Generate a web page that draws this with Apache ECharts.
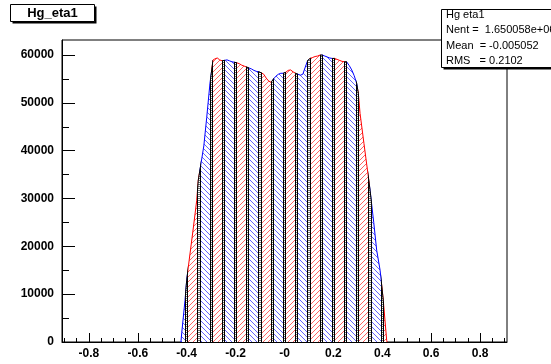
<!DOCTYPE html>
<html><head><meta charset="utf-8">
<script src="https://cdn.jsdelivr.net/npm/echarts@6/dist/echarts.min.js"></script>
<style>html,body{margin:0;padding:0;background:#fff}#c{width:551px;height:364px}</style>
</head><body><div id="c"></div>
<script>
// ---- histogram outline (x, entries) ----
const envX = [-0.4235,-0.420,-0.407,-0.400,-0.390,-0.375,-0.359,-0.3526,-0.330,-0.318,-0.3047,-0.2924,
 -0.285,-0.275,-0.265,-0.255,-0.245,-0.235,-0.225,-0.215,-0.205,-0.195,-0.185,-0.175,-0.165,-0.155,-0.145,-0.135,-0.125,-0.115,-0.105,-0.095,
 -0.085,-0.075,-0.065,-0.055,-0.045,-0.035,-0.025,-0.015,-0.005,0.005,0.015,0.025,0.035,0.045,0.055,0.065,0.075,0.085,0.095,0.105,
 0.115,0.125,0.135,0.145,0.155,0.165,0.175,0.185,0.195,0.205,0.215,0.225,0.235,0.245,
 0.254,0.265,0.275,0.285,0.295,0.302,0.309,0.325,0.343,0.350,0.365,0.377,0.391,0.404,0.418,0.4195];
const envV = [0,2050,8700,12900,17070,23000,29640,33830,41000,47000,54150,58960,
 59200,59400,59000,58800,58900,59000,58800,58600,58500,58400,58200,57900,57700,57500,57300,57100,56800,56600,56500,56300,
 56000,55200,54600,54300,55000,55600,56000,56200,56200,56400,56800,56900,56500,56200,56000,55800,56000,57500,58900,59300,
 59500,59700,59800,60000,60000,59800,59600,59400,59300,59300,59100,58900,58700,58600,
 58600,57800,56900,55700,54100,52000,47800,41500,34500,31700,25000,19200,15000,8700,300,0];
const crackCenters = [-0.40,-0.35,-0.30,-0.25,-0.20,-0.15,-0.10,-0.05,0.00,0.05,0.10,0.15,0.20,0.25,0.30,0.35,0.40];
const crackWidth = 0.013;
const xTickValues = [-0.8,-0.6,-0.4,-0.2,0,0.2,0.4,0.6,0.8];
const xTickLabels = ['-0.8','-0.6','-0.4','-0.2','-0','0.2','0.4','0.6','0.8'];
const xMinorTicks = [-0.9,-0.85,-0.75,-0.7,-0.65,-0.55,-0.5,-0.45,-0.35,-0.3,-0.25,-0.15,-0.1,-0.05,0.05,0.1,0.15,0.25,0.3,0.35,0.45,0.5,0.55,0.65,0.7,0.75,0.85,0.9];
const yTickValues = [0,10000,20000,30000,40000,50000,60000];
const yMinorTicks = [5000,15000,25000,35000,45000,55000];
const histTitle = 'Hg_eta1';
const statsTitle = 'Hg eta1';
const statsRows = ['Nent =  1.650058e+06', 'Mean  = -0.005052', 'RMS   = 0.2102'];

// ---- hatch patterns ----
function hatch(kind) {
  const c = document.createElement('canvas');
  const ctx = c.getContext('2d');
  if (kind === 'crack') {
    c.width = 1; c.height = 2;
    ctx.fillStyle = '#ffffff'; ctx.fillRect(0,0,1,2);
    ctx.fillStyle = '#707070'; ctx.fillRect(0,0,1,1);
    return c;
  }
  const n = 5;
  c.width = n; c.height = n;
  ctx.fillStyle = '#ffffff'; ctx.fillRect(0,0,n,n);
  ctx.fillStyle = kind === 'red' ? '#ff6464' : '#6464ff';
  for (let i = 0; i < n; i++) {
    if (kind === 'red') ctx.fillRect(i, n - 1 - i, 1, 1); else ctx.fillRect(i, i, 1, 1);
  }
  return c;
}
const kinds = ['red', 'blue', 'crack'];
const pats = { red: hatch('red'), blue: hatch('blue'), crack: hatch('crack') };
const lineCol = { red: '#ff0000', blue: '#0000ff', crack: '#000000' };

// strips: blue outside left, alternating red/blue between cracks, red outside right
const hw = crackWidth / 2;
const stripRows = [];
stripRows.push([envX[0] - 0.01, crackCenters[0], 1]);
for (let k = 0; k < crackCenters.length - 1; k++) stripRows.push([crackCenters[k], crackCenters[k + 1], k % 2 === 0 ? 0 : 1]);
stripRows.push([crackCenters[crackCenters.length - 1], envX[envX.length - 1] + 0.01, 0]);
crackCenters.forEach(c => stripRows.push([c - hw, c + hw, 2]));

function renderStrip(params, api) {
  const a = api.value(0), b = api.value(1), kind = kinds[api.value(2)];
  const cs = params.coordSys;
  const top = cs.y, y0 = cs.y + cs.height;
  const pts = envX.map((x, i) => api.coord([x, envV[i]]));
  const poly = [api.coord([envX[0], 0])].concat(pts, [api.coord([envX[envX.length - 1], 0])]);
  const xa = Math.round(api.coord([a, 0])[0]);
  const xb = Math.round(api.coord([b, 0])[0]);
  const clip = () => ({ type: 'rect', shape: { x: xa, y: top - 5, width: Math.max(1, xb - xa), height: cs.height + 10 } });
  const children = [
    { type: 'polygon', shape: { points: poly }, style: { fill: { image: pats[kind], repeat: 'repeat' }, stroke: null }, clipPath: clip() },
    { type: 'polyline', shape: { points: pts }, style: { stroke: lineCol[kind], lineWidth: 1, fill: null }, clipPath: clip() }
  ];
  if (kind === 'crack') {
    [xa + 0.5, xb - 0.5].forEach(xx => children.push({
      type: 'line', shape: { x1: xx, y1: y0, x2: xx, y2: top }, style: { stroke: '#000', lineWidth: 1 },
      clipPath: { type: 'polygon', shape: { points: poly } }
    }));
  }
  return { type: 'group', children };
}

const font = { fontFamily: 'Liberation Sans', fontWeight: 'bold', fontSize: 12, color: '#000' };
const chart = echarts.init(document.getElementById('c'), null, { renderer: 'canvas' });
const rowY = [30, 46, 61];
const statsText = statsRows.map((r, i) => ({ type: 'text', x: 446, y: rowY[i], z: 102,
  style: { text: r, font: '11px "Liberation Sans"', fill: '#000', textVerticalAlign: 'middle' } }));
chart.setOption({
  animation: false,
  backgroundColor: '#fff',
  grid: { left: 62, right: 44, top: 40, bottom: 22, show: true, borderColor: '#000', borderWidth: 1, backgroundColor: 'transparent' },
  xAxis: [{
    type: 'value', min: -0.91, max: 0.91, position: 'bottom',
    axisLine: { show: true, onZero: false, lineStyle: { color: '#000', width: 1 } },
    axisTick: { show: true, inside: true, length: 9, customValues: xTickValues, lineStyle: { color: '#000' } },
    axisLabel: { show: true, customValues: xTickValues, margin: 6, ...font,
      formatter: v => { const i = xTickValues.findIndex(t => Math.abs(t - v) < 1e-9); return i >= 0 ? xTickLabels[i] : ''; } },
    splitLine: { show: false }
  }, {
    type: 'value', min: -0.91, max: 0.91, position: 'bottom',
    axisLine: { show: false, onZero: false },
    axisTick: { show: true, inside: true, length: 4, customValues: xMinorTicks, lineStyle: { color: '#000' } },
    axisLabel: { show: false }, splitLine: { show: false }
  }],
  yAxis: [{
    type: 'value', min: 0, max: 63158, position: 'left',
    axisLine: { show: true, onZero: false, lineStyle: { color: '#000', width: 1 } },
    axisTick: { show: true, inside: true, length: 13, customValues: yTickValues, lineStyle: { color: '#000' } },
    axisLabel: { show: true, customValues: yTickValues, margin: 8, ...font, formatter: v => String(v) },
    splitLine: { show: false }
  }, {
    type: 'value', min: 0, max: 63158, position: 'left',
    axisLine: { show: false, onZero: false },
    axisTick: { show: true, inside: true, length: 7, customValues: yMinorTicks, lineStyle: { color: '#000' } },
    axisLabel: { show: false }, splitLine: { show: false }
  }],
  series: [{
    type: 'custom', xAxisIndex: 0, yAxisIndex: 0, data: stripRows, encode: { x: [0, 1] },
    renderItem: renderStrip, clip: true, silent: true, z: 3, animation: false
  }],
  graphic: [
    { type: 'rect', shape: { x: 12.5, y: 6.5, width: 84, height: 17 }, style: { fill: '#000' }, z: 100 },
    { type: 'rect', shape: { x: 10.5, y: 4.5, width: 84, height: 17 }, style: { fill: '#fff', stroke: '#000', lineWidth: 1 }, z: 101 },
    { type: 'text', x: 52.5, y: 13.5, z: 102, style: { text: histTitle, font: 'bold 13px "Liberation Sans"', fill: '#000', textAlign: 'center', textVerticalAlign: 'middle' } },
    { type: 'rect', shape: { x: 443.5, y: 11.5, width: 120, height: 58 }, style: { fill: '#000' }, z: 100 },
    { type: 'rect', shape: { x: 441.5, y: 9.5, width: 120, height: 58 }, style: { fill: '#fff', stroke: '#000', lineWidth: 1 }, z: 101 },
    { type: 'text', x: 446, y: 15, z: 102, style: { text: statsTitle, font: '11px "Liberation Sans"', fill: '#000', textVerticalAlign: 'middle' } },
    ...statsText
  ]
});
</script></body></html>
